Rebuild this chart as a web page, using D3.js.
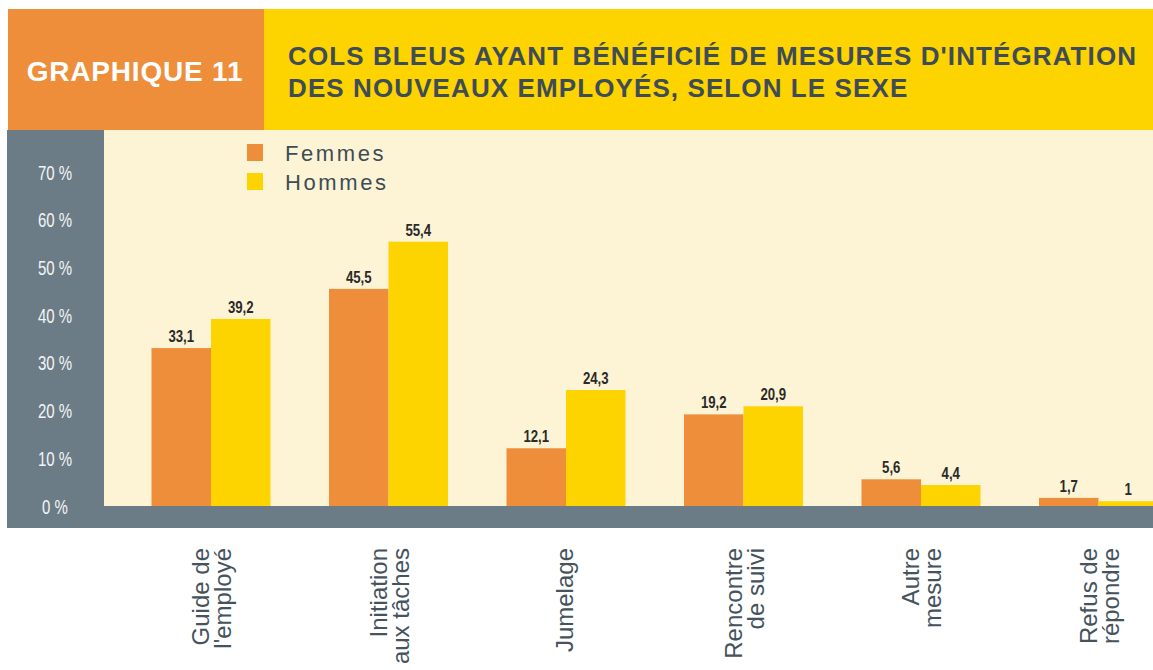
<!DOCTYPE html>
<html><head><meta charset="utf-8">
<script src="https://cdn.jsdelivr.net/npm/d3@7"></script>
<style>html,body{margin:0;padding:0;background:#fff;overflow:hidden}</style>
</head><body><svg id="c" width="1153" height="670"></svg>
<script>
const categories = [["Guide de","l'employé"],["Initiation","aux tâches"],["Jumelage"],["Rencontre","de suivi"],["Autre","mesure"],["Refus de","répondre"]];
const seriesNames = ["Femmes","Hommes"];
const femmes = [33.1,45.5,12.1,19.2,5.6,1.7];
const hommes = [39.2,55.4,24.3,20.9,4.4,1];
const yTicks = [0,10,20,30,40,50,60,70];
const chartNumber = "GRAPHIQUE 11";
const titleLines = ["COLS BLEUS AYANT BÉNÉFICIÉ DE MESURES D'INTÉGRATION","DES NOUVEAUX EMPLOYÉS, SELON LE SEXE"];

const colors = {Femmes:"#ee8e3b", Hommes:"#fdd300"};
const ORANGE="#ee8e3b", YELLOW="#fdd300", CREAM="#fdf4d5", GRAY="#6c7c86", DARK="#3e4c56";
const SANS="'Liberation Sans', Arial, Helvetica, sans-serif";

const svg = d3.select("#c");
const keys = categories.map(c=>c.join(" "));
const series = [femmes, hommes];

const x = d3.scaleBand().domain(keys).range([122.25,1187.25]).paddingInner(0.3296).paddingOuter(0.1648);
const xs = d3.scaleBand().domain(seriesNames).range([0,x.bandwidth()]);
const y = d3.scaleLinear().domain([0,70]).range([506,172]);

// header
svg.append("rect").attr("x",8).attr("y",9).attr("width",256).attr("height",121).attr("fill",ORANGE);
svg.append("rect").attr("x",264).attr("y",9).attr("width",889).attr("height",121).attr("fill",YELLOW);
svg.append("text").attr("x",135).attr("y",81).attr("text-anchor","middle")
  .attr("font-family",SANS).attr("font-weight","bold").attr("font-size",28).attr("fill","#fff")
  .attr("letter-spacing",0.8).text(chartNumber);
svg.append("text").attr("font-family",SANS).attr("font-weight","bold").attr("font-size",26).attr("fill",DARK)
  .attr("letter-spacing",1.1)
  .selectAll("tspan").data(titleLines).join("tspan")
  .attr("x",288).attr("y",(d,i)=>65+i*32).text(d=>d);

// plot area
svg.append("rect").attr("x",104).attr("y",130).attr("width",1049).attr("height",376).attr("fill",CREAM);
svg.append("rect").attr("x",7).attr("y",130).attr("width",97).attr("height",398).attr("fill",GRAY);

// bars
const groups = svg.append("g").selectAll("g").data(keys).join("g")
  .attr("transform",d=>`translate(${x(d)},0)`);
groups.selectAll("rect").data((k,i)=>seriesNames.map((s,j)=>({s, v:series[j][i]}))).join("rect")
  .attr("x",d=>xs(d.s)).attr("width",xs.bandwidth())
  .attr("y",d=>y(d.v)).attr("height",d=>y(0)-y(d.v)).attr("fill",d=>colors[d.s]);
groups.selectAll("text").data((k,i)=>seriesNames.map((s,j)=>({s, v:series[j][i]}))).join("text")
  .attr("transform",d=>`translate(${xs(d.s)+xs.bandwidth()/2},${y(d.v)-6}) scale(0.8,1)`)
  .attr("text-anchor","middle").attr("font-family",SANS).attr("font-weight","bold")
  .attr("font-size",16.5).attr("fill","#2a2a2a")
  .text(d=>String(d.v).replace(".",","));

// bottom band
svg.append("rect").attr("x",7).attr("y",506).attr("width",1146).attr("height",22).attr("fill",GRAY);

// y axis
const ax = svg.append("g").attr("transform","translate(55,0)")
  .call(d3.axisLeft(y).tickValues(yTicks).tickSize(0).tickPadding(0).tickFormat(d=>d+" %"));
ax.select(".domain").remove();
ax.selectAll("text").attr("x",0).attr("dy","0.35em").attr("transform","scale(0.75,1)")
  .attr("text-anchor","middle").attr("font-family",SANS)
  .attr("font-size",20).attr("fill","#f4f5f6");

// category labels
const cl = svg.append("g").selectAll("g").data(categories).join("g")
  .attr("transform",(d,i)=>`translate(${x(keys[i])+x.bandwidth()/2},548) rotate(-90)`);
cl.append("text").attr("text-anchor","end").attr("font-family",SANS).attr("font-size",24).attr("fill","#44535d")
  .selectAll("tspan").data(d=>d.map((t,j)=>({t, y: d.length===1 ? 7 : (j===0 ? -2 : 20)}))).join("tspan")
  .attr("x",0).attr("y",d=>d.y).text(d=>d.t);

// legend
const lg = svg.append("g").selectAll("g").data(seriesNames).join("g")
  .attr("transform",(d,i)=>`translate(247,${144+i*29})`);
lg.append("rect").attr("width",16).attr("height",17).attr("fill",d=>colors[d]);
lg.append("text").attr("x",38).attr("y",17).attr("font-family",SANS).attr("font-size",22)
  .attr("letter-spacing",2.6).attr("fill",DARK).text(d=>d);
</script>
</body></html>
